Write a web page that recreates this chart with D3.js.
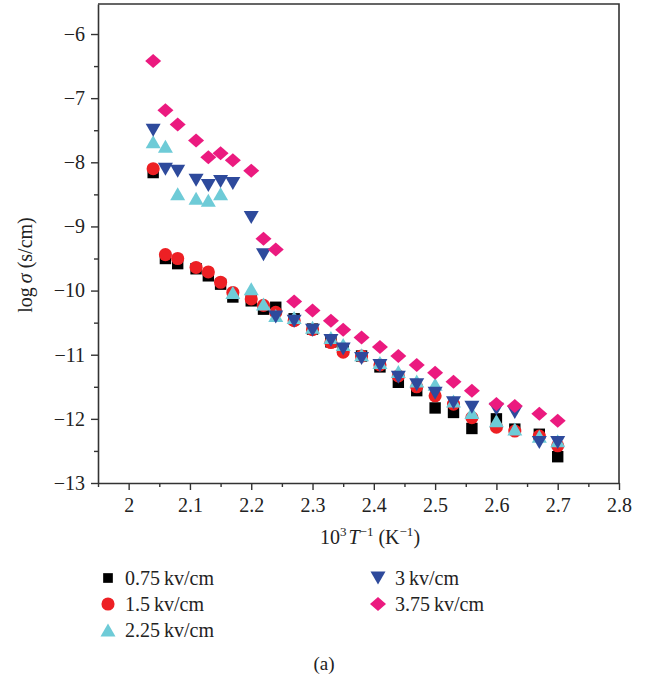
<!DOCTYPE html>
<html>
<head>
<meta charset="utf-8">
<title>log sigma vs 1000/T</title>
<script src="https://cdn.jsdelivr.net/npm/d3@7"></script>
<style>
  body { margin: 0; background: #fff; }
  text { font-family: "Liberation Serif", "DejaVu Serif", serif; fill: #222; }
</style>
</head>
<body>
<script>
// x values (10^3 / T), shared by every series
var invT = [2.04, 2.06, 2.08, 2.11, 2.13, 2.15, 2.17, 2.20, 2.22, 2.24, 2.27, 2.30, 2.33,
            2.35, 2.38, 2.41, 2.44, 2.47, 2.50, 2.53, 2.56, 2.60, 2.63, 2.67, 2.70]

var s075 = [-8.16, -9.50, -9.58, -9.66, -9.77, -9.90, -10.10, -10.16, -10.29, -10.26, -10.44, -10.60, -10.80,
            -10.91, -11.02, -11.19, -11.43, -11.56, -11.83, -11.90, -12.15, -12.00, -12.16, -12.24, -12.59]
var s15  = [-8.10, -9.44, -9.50, -9.64, -9.71, -9.87, -10.03, -10.13, -10.23, -10.34, -10.47, -10.61, -10.81,
            -10.96, -11.02, -11.16, -11.33, -11.50, -11.64, -11.77, -11.98, -12.13, -12.19, -12.27, -12.42]
var s225 = [-7.68, -7.75, -8.49, -8.56, -8.59, -8.49, -10.03, -9.97, -10.21, -10.39, -10.42, -10.57, -10.73,
            -10.84, -11.00, -11.12, -11.26, -11.41, -11.46, -11.72, -11.90, -12.03, -12.16, -12.27, -12.34]
var s3   = [-7.50, -8.11, -8.14, -8.28, -8.36, -8.30, -8.33, -8.86, -9.44, -10.41, -10.48, -10.62, -10.78,
            -10.91, -11.06, -11.17, -11.35, -11.47, -11.60, -11.75, -11.82, -11.85, -11.90, -12.37, -12.37]
var s375 = [-6.42, -7.19, -7.41, -7.66, -7.92, -7.86, -7.97, -8.13, -9.19, -9.36, -10.17, -10.31, -10.47,
            -10.61, -10.73, -10.88, -11.02, -11.16, -11.28, -11.42, -11.56, -11.77, -11.80, -11.92, -12.03]

var labels = ['0.75\u2009kv/cm', '1.5\u2009kv/cm', '2.25\u2009kv/cm', '3\u2009kv/cm', '3.75\u2009kv/cm']
var colors = ['#000000', '#ed2024', '#6ecbd7', '#2e4a9c', '#eb1a7f']
var xTicks = [2, 2.1, 2.2, 2.3, 2.4, 2.5, 2.6, 2.7, 2.8]
var yTicks = [-13, -12, -11, -10, -9, -8, -7, -6]

// custom marker shapes
function triangle(up) {
  return { draw: function (ctx, size) {
    var w = 7.5, h = 6.5
    var s = up ? 1 : -1
    ctx.moveTo(0, -s * h)
    ctx.lineTo(w, s * h)
    ctx.lineTo(-w, s * h)
    ctx.closePath()
  } }
}
var flatDiamond = { draw: function (ctx, size) {
  ctx.moveTo(0, -7)
  ctx.lineTo(8, 0)
  ctx.lineTo(0, 7)
  ctx.lineTo(-8, 0)
  ctx.closePath()
} }
var shapes = [
  d3.symbol(d3.symbolSquare, 130),
  d3.symbol(d3.symbolCircle, 135),
  d3.symbol(triangle(true)),
  d3.symbol(triangle(false)),
  d3.symbol(flatDiamond)
]

var series = [s075, s15, s225, s3, s375]

var W = 648, H = 685
var mLeft = 98, mRight = 619, mTop = 4, mBottom = 483

var svg = d3.select('body').append('svg')
  .attr('width', W)
  .attr('height', H)

var xScale = d3.scaleLinear().domain([1.95, 2.8]).range([mLeft, mRight])
var yScale = d3.scaleLinear().domain([-13, -5.532]).range([mBottom, mTop])

var fmt = function (d) { return d3.format('')(d).replace('-', '\u2212') }

// minor ticks
svg.append('g')
  .attr('transform', 'translate(0,' + mBottom + ')')
  .call(d3.axisBottom(xScale).tickValues(d3.range(1.95, 2.8, 0.1)).tickSize(4).tickFormat(''))
  .call(function (g) { g.select('.domain').remove() })
svg.append('g')
  .attr('transform', 'translate(' + mLeft + ',0)')
  .call(d3.axisLeft(yScale).tickValues(d3.range(-12.5, -5.6, 1)).tickSize(4).tickFormat(''))
  .call(function (g) { g.select('.domain').remove() })

// x-axis
svg.append('g')
  .attr('class', 'axis')
  .attr('transform', 'translate(0,' + mBottom + ')')
  .call(d3.axisBottom(xScale).tickValues(xTicks).tickSize(7).tickSizeOuter(0).tickPadding(8)
    .tickFormat(function (d) { return d3.format('.1f')(d).replace(/\.0$/, '') }))

// y-axis
svg.append('g')
  .attr('class', 'axis')
  .attr('transform', 'translate(' + mLeft + ',0)')
  .call(d3.axisLeft(yScale).tickValues(yTicks).tickSize(7).tickSizeOuter(0).tickPadding(6)
    .tickFormat(fmt))

// frame top / right
svg.append('path')
  .attr('d', 'M' + mLeft + ',' + mTop + 'H' + mRight + 'V' + mBottom)
  .attr('fill', 'none')
  .attr('stroke', '#333')
  .attr('stroke-width', 1.6)

svg.selectAll('.axis path, .axis line').attr('stroke', '#333').attr('stroke-width', 1.6)
svg.selectAll('g line').attr('stroke', '#333').attr('stroke-width', 1.4)
svg.selectAll('.axis text').attr('font-size', 20).attr('fill', '#222')
  .attr('font-family', '"Liberation Serif", serif')

// points
series.forEach(function (vals, i) {
  svg.append('g').selectAll('path')
    .data(vals)
    .enter()
    .append('path')
    .attr('d', shapes[i])
    .attr('transform', function (d, j) { return 'translate(' + xScale(invT[j]) + ',' + yScale(d) + ')' })
    .attr('fill', colors[i])
})

// axis labels
var xl = svg.append('text')
  .attr('x', 370).attr('y', 544)
  .attr('text-anchor', 'middle')
  .attr('font-size', 20)
xl.append('tspan').text('10')
xl.append('tspan').text('3').attr('font-size', 13).attr('dy', -8)
xl.append('tspan').text('T').attr('font-style', 'italic').attr('dy', 8).attr('dx', 2)
xl.append('tspan').text('\u22121').attr('font-size', 13).attr('dy', -8)
xl.append('tspan').text(' (K').attr('dy', 8)
xl.append('tspan').text('\u22121').attr('font-size', 13).attr('dy', -8)
xl.append('tspan').text(')').attr('dy', 8)

var yl = svg.append('text')
  .attr('transform', 'translate(32,265) rotate(-90)')
  .attr('text-anchor', 'middle')
  .attr('font-size', 20)
yl.append('tspan').text('log\u2009')
yl.append('tspan').text('\u03c3').attr('font-style', 'italic')
yl.append('tspan').text(' (s/cm)')

// legend
var legPos = [[108, 578], [108, 604], [108, 630], [378, 578], [378, 604]]
labels.forEach(function (lab, i) {
  var g = svg.append('g').attr('transform', 'translate(' + legPos[i][0] + ',' + legPos[i][1] + ')')
  g.append('path').attr('d', shapes[i]).attr('fill', colors[i])
    .attr('transform', i === 0 ? 'scale(0.85)' : null)
  g.append('text').attr('x', 17).attr('y', 7).attr('font-size', 20).text(lab)
})

svg.append('text')
  .attr('x', 324).attr('y', 670)
  .attr('text-anchor', 'middle')
  .attr('font-size', 19)
  .text('(a)')
</script>
</body>
</html>
